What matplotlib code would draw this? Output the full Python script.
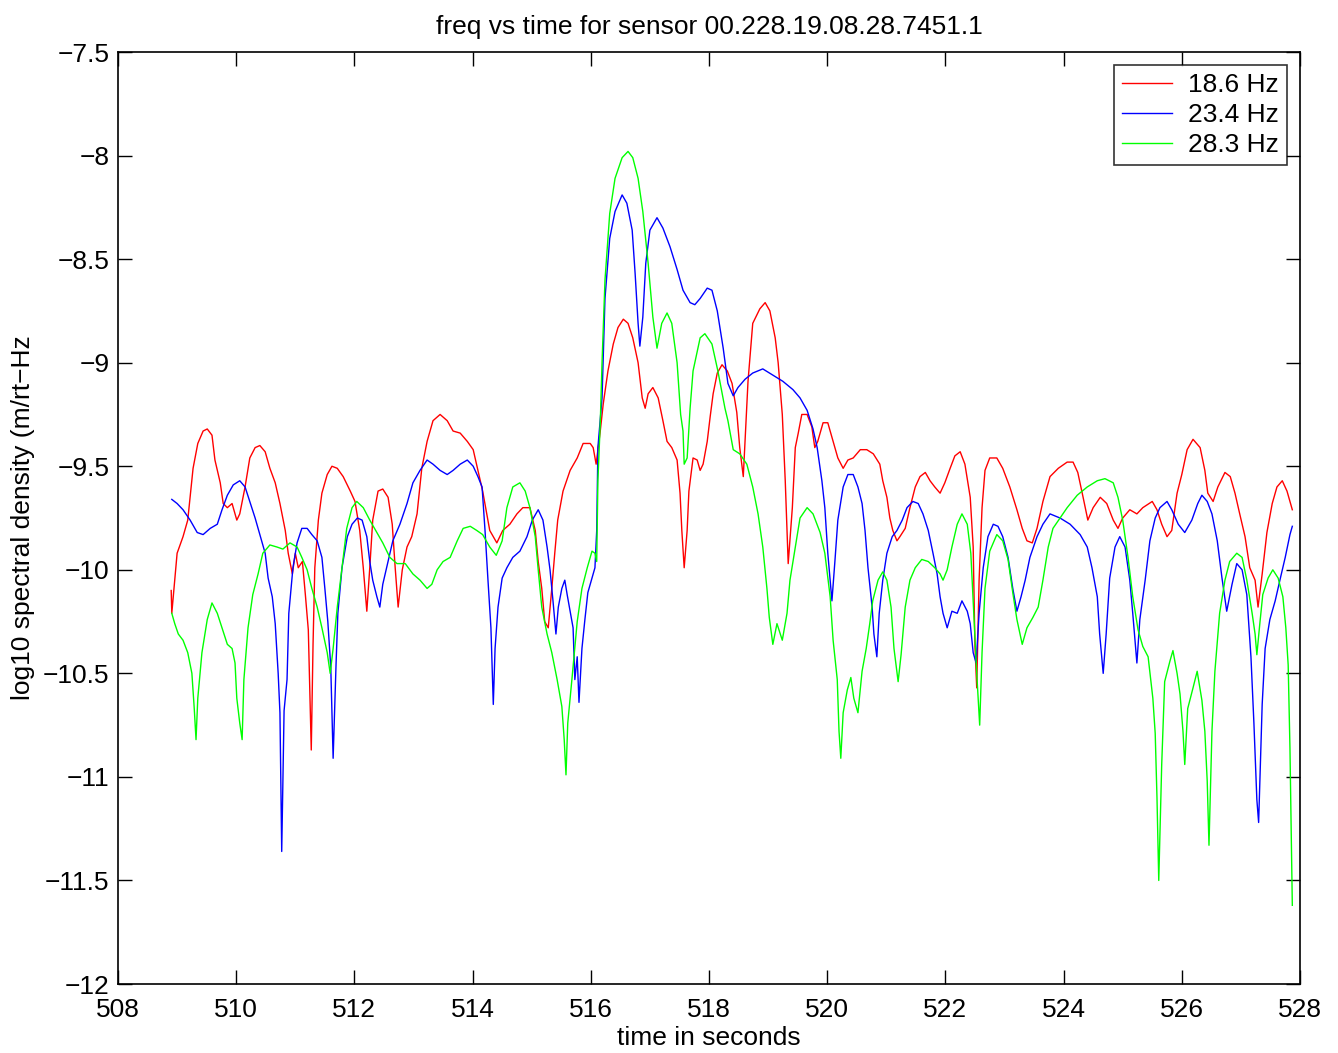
"""Spectral density vs time for one sensor, three frequency bands."""
import matplotlib
matplotlib.use("Agg")
import matplotlib.pyplot as plt
import numpy as np

plt.rcParams["font.family"] = ["Liberation Sans", "DejaVu Sans"]
plt.rcParams["axes.unicode_minus"] = True

SENSOR = "00.228.19.08.28.7451.1"
LABELS = ["18.6 Hz", "23.4 Hz", "28.3 Hz"]
COLORS = ["#ff0000", "#0000ff", "#00ff00"]
FS = 19

# 18.6 Hz
t_red = [508.90, 508.91, 509.00, 509.10, 509.18, 509.27, 509.35, 509.44, 509.51, 509.59,
         509.64, 509.73, 509.78, 509.85, 509.93, 510.01, 510.06, 510.15, 510.23, 510.32,
         510.40, 510.49, 510.57, 510.66, 510.74, 510.83, 510.88, 510.95, 511.00, 511.05,
         511.12, 511.17, 511.22, 511.27, 511.30, 511.33, 511.39, 511.45, 511.54, 511.62,
         511.71, 511.81, 511.93, 512.01, 512.09, 512.15, 512.21, 512.26, 512.31, 512.40,
         512.48, 512.57, 512.64, 512.69, 512.74, 512.81, 512.89, 512.97, 513.06, 513.14,
         513.23, 513.33, 513.45, 513.57, 513.67, 513.79, 513.91, 514.01, 514.09, 514.17,
         514.24, 514.29, 514.41, 514.51, 514.63, 514.75, 514.85, 514.97, 515.06, 515.11,
         515.17, 515.22, 515.28, 515.34, 515.39, 515.44, 515.53, 515.65, 515.77, 515.87,
         515.99, 516.04, 516.09, 516.16, 516.21, 516.29, 516.38, 516.46, 516.55, 516.63,
         516.71, 516.80, 516.87, 516.92, 516.97, 517.05, 517.14, 517.22, 517.29, 517.37,
         517.46, 517.51, 517.54, 517.58, 517.63, 517.66, 517.73, 517.80, 517.85, 517.90,
         517.97, 518.02, 518.07, 518.14, 518.22, 518.31, 518.39, 518.47, 518.52, 518.58,
         518.61, 518.66, 518.74, 518.86, 518.95, 519.03, 519.12, 519.17, 519.24, 519.29,
         519.34, 519.41, 519.46, 519.51, 519.57, 519.66, 519.74, 519.79, 519.84, 519.93,
         520.01, 520.10, 520.18, 520.27, 520.35, 520.44, 520.56, 520.67, 520.78, 520.89,
         520.94, 521.01, 521.06, 521.11, 521.18, 521.23, 521.32, 521.40, 521.49, 521.57,
         521.66, 521.74, 521.82, 521.91, 521.99, 522.08, 522.16, 522.25, 522.33, 522.42,
         522.47, 522.50, 522.53, 522.57, 522.62, 522.67, 522.75, 522.87, 522.97, 523.09,
         523.21, 523.30, 523.38, 523.47, 523.55, 523.65, 523.77, 523.91, 524.06, 524.16,
         524.24, 524.33, 524.41, 524.50, 524.62, 524.73, 524.84, 524.92, 525.00, 525.12,
         525.24, 525.34, 525.50, 525.58, 525.66, 525.75, 525.83, 525.92, 526.00, 526.09,
         526.19, 526.31, 526.39, 526.44, 526.53, 526.61, 526.73, 526.82, 526.90, 526.98,
         527.07, 527.15, 527.24, 527.29, 527.36, 527.44, 527.53, 527.61, 527.70, 527.78,
         527.87]
psd_red = [-10.10, -10.21, -9.92, -9.84, -9.76, -9.51, -9.39, -9.33, -9.32, -9.35,
           -9.47, -9.58, -9.68, -9.70, -9.68, -9.76, -9.73, -9.60, -9.46, -9.41,
           -9.40, -9.43, -9.51, -9.58, -9.68, -9.81, -9.92, -10.02, -9.92, -9.99,
           -9.96, -10.12, -10.29, -10.87, -10.36, -9.99, -9.76, -9.63, -9.54, -9.50,
           -9.51, -9.55, -9.62, -9.67, -9.81, -9.99, -10.20, -9.99, -9.76, -9.62,
           -9.61, -9.65, -9.78, -9.99, -10.18, -10.00, -9.89, -9.84, -9.73, -9.51,
           -9.38, -9.28, -9.25, -9.28, -9.33, -9.34, -9.38, -9.42, -9.52, -9.62,
           -9.73, -9.81, -9.87, -9.81, -9.78, -9.73, -9.70, -9.70, -9.81, -9.96,
           -10.09, -10.25, -10.28, -10.09, -9.92, -9.76, -9.62, -9.52, -9.46, -9.39,
           -9.39, -9.41, -9.49, -9.33, -9.20, -9.04, -8.91, -8.83, -8.79, -8.81,
           -8.88, -9.00, -9.17, -9.22, -9.15, -9.12, -9.17, -9.28, -9.38, -9.41,
           -9.47, -9.63, -9.81, -9.99, -9.81, -9.62, -9.46, -9.47, -9.52, -9.49,
           -9.38, -9.26, -9.15, -9.05, -9.01, -9.04, -9.10, -9.24, -9.41, -9.55,
           -9.38, -9.09, -8.81, -8.74, -8.71, -8.75, -8.88, -9.00, -9.25, -9.57,
           -9.97, -9.70, -9.41, -9.34, -9.25, -9.25, -9.31, -9.41, -9.38, -9.29,
           -9.29, -9.38, -9.46, -9.51, -9.47, -9.46, -9.42, -9.42, -9.44, -9.49,
           -9.57, -9.65, -9.75, -9.81, -9.86, -9.84, -9.80, -9.70, -9.60, -9.55,
           -9.53, -9.57, -9.60, -9.63, -9.58, -9.51, -9.45, -9.43, -9.49, -9.65,
           -9.89, -10.37, -10.57, -10.05, -9.70, -9.52, -9.46, -9.46, -9.51, -9.60,
           -9.71, -9.80, -9.86, -9.87, -9.80, -9.67, -9.55, -9.51, -9.48, -9.48,
           -9.53, -9.65, -9.76, -9.70, -9.65, -9.68, -9.76, -9.80, -9.75, -9.71,
           -9.73, -9.70, -9.67, -9.71, -9.78, -9.84, -9.81, -9.63, -9.54, -9.42,
           -9.37, -9.41, -9.52, -9.63, -9.67, -9.60, -9.53, -9.55, -9.63, -9.73,
           -9.84, -9.99, -10.05, -10.18, -10.02, -9.82, -9.68, -9.60, -9.57, -9.62,
           -9.71]

# 23.4 Hz
t_blue = [508.91, 509.00, 509.10, 509.22, 509.34, 509.44, 509.56, 509.68, 509.76, 509.85,
          509.95, 510.06, 510.15, 510.23, 510.32, 510.40, 510.49, 510.54, 510.61, 510.66,
          510.71, 510.74, 510.77, 510.81, 510.86, 510.89, 510.96, 511.03, 511.11, 511.20,
          511.28, 511.37, 511.45, 511.50, 511.55, 511.60, 511.64, 511.69, 511.72, 511.79,
          511.88, 511.96, 512.05, 512.13, 512.21, 512.26, 512.31, 512.38, 512.43, 512.48,
          512.57, 512.65, 512.77, 512.89, 512.99, 513.11, 513.23, 513.33, 513.45, 513.57,
          513.67, 513.79, 513.91, 514.01, 514.09, 514.16, 514.21, 514.26, 514.31, 514.35,
          514.38, 514.43, 514.50, 514.58, 514.68, 514.80, 514.92, 515.01, 515.11, 515.19,
          515.26, 515.31, 515.36, 515.41, 515.45, 515.51, 515.56, 515.60, 515.65, 515.70,
          515.73, 515.77, 515.80, 515.85, 515.90, 515.95, 516.02, 516.07, 516.10, 516.12,
          516.19, 516.24, 516.32, 516.41, 516.53, 516.61, 516.70, 516.75, 516.80, 516.83,
          516.88, 516.93, 517.00, 517.12, 517.22, 517.34, 517.46, 517.56, 517.68, 517.76,
          517.85, 517.97, 518.05, 518.14, 518.24, 518.32, 518.41, 518.49, 518.61, 518.74,
          518.91, 519.08, 519.25, 519.42, 519.54, 519.66, 519.76, 519.83, 519.91, 519.96,
          520.01, 520.08, 520.13, 520.18, 520.27, 520.35, 520.44, 520.52, 520.59, 520.64,
          520.69, 520.76, 520.79, 520.84, 520.88, 520.94, 521.01, 521.10, 521.18, 521.27,
          521.35, 521.45, 521.54, 521.62, 521.71, 521.79, 521.86, 521.91, 521.96, 522.03,
          522.11, 522.20, 522.28, 522.37, 522.42, 522.47, 522.52, 522.57, 522.64, 522.72,
          522.81, 522.89, 522.97, 523.06, 523.14, 523.21, 523.28, 523.35, 523.43, 523.55,
          523.65, 523.77, 523.94, 524.11, 524.28, 524.40, 524.48, 524.57, 524.61, 524.67,
          524.72, 524.78, 524.87, 524.95, 525.04, 525.12, 525.17, 525.24, 525.29, 525.38,
          525.46, 525.55, 525.63, 525.75, 525.83, 525.94, 526.05, 526.17, 526.27, 526.34,
          526.43, 526.51, 526.60, 526.68, 526.76, 526.85, 526.93, 527.02, 527.10, 527.17,
          527.22, 527.27, 527.30, 527.36, 527.41, 527.49, 527.58, 527.66, 527.75, 527.83,
          527.87]
psd_blue = [-9.66, -9.68, -9.71, -9.76, -9.82, -9.83, -9.80, -9.78, -9.71, -9.64,
            -9.59, -9.57, -9.60, -9.67, -9.75, -9.83, -9.92, -10.04, -10.13, -10.26,
            -10.50, -10.69, -11.36, -10.68, -10.53, -10.21, -9.99, -9.87, -9.80, -9.80,
            -9.83, -9.86, -9.94, -10.09, -10.25, -10.47, -10.91, -10.45, -10.21, -9.99,
            -9.84, -9.78, -9.75, -9.76, -9.84, -9.96, -10.05, -10.13, -10.18, -10.07,
            -9.96, -9.86, -9.78, -9.68, -9.58, -9.52, -9.47, -9.49, -9.52, -9.54,
            -9.52, -9.49, -9.47, -9.50, -9.55, -9.60, -9.81, -10.05, -10.28, -10.65,
            -10.38, -10.18, -10.04, -9.99, -9.94, -9.91, -9.84, -9.76, -9.71, -9.76,
            -9.89, -10.00, -10.15, -10.31, -10.18, -10.09, -10.05, -10.12, -10.20, -10.28,
            -10.53, -10.42, -10.64, -10.38, -10.24, -10.11, -10.04, -9.99, -9.81, -9.41,
            -9.17, -8.69, -8.40, -8.27, -8.19, -8.23, -8.36, -8.57, -8.81, -8.92,
            -8.78, -8.52, -8.36, -8.30, -8.35, -8.44, -8.55, -8.65, -8.71, -8.72,
            -8.69, -8.64, -8.65, -8.75, -8.93, -9.10, -9.16, -9.12, -9.08, -9.05,
            -9.03, -9.06, -9.09, -9.13, -9.17, -9.23, -9.32, -9.41, -9.57, -9.70,
            -9.92, -10.15, -9.96, -9.76, -9.60, -9.54, -9.54, -9.60, -9.68, -9.81,
            -9.99, -10.18, -10.31, -10.42, -10.21, -10.05, -9.92, -9.84, -9.81, -9.76,
            -9.70, -9.67, -9.68, -9.73, -9.81, -9.92, -10.02, -10.13, -10.21, -10.28,
            -10.20, -10.21, -10.15, -10.20, -10.26, -10.40, -10.45, -10.21, -9.99, -9.84,
            -9.78, -9.79, -9.84, -9.94, -10.09, -10.20, -10.13, -10.05, -9.94, -9.84,
            -9.78, -9.73, -9.75, -9.78, -9.83, -9.89, -9.99, -10.13, -10.31, -10.50,
            -10.31, -10.04, -9.89, -9.84, -9.89, -10.05, -10.21, -10.45, -10.24, -10.05,
            -9.86, -9.75, -9.70, -9.67, -9.71, -9.78, -9.82, -9.76, -9.68, -9.64,
            -9.67, -9.73, -9.86, -10.04, -10.20, -10.07, -9.97, -10.00, -10.12, -10.42,
            -10.74, -11.11, -11.22, -10.65, -10.38, -10.24, -10.15, -10.05, -9.94, -9.83,
            -9.79]

# 28.3 Hz
t_green = [508.91, 508.96, 509.02, 509.10, 509.18, 509.25, 509.29, 509.32, 509.35, 509.42,
           509.51, 509.59, 509.68, 509.76, 509.85, 509.93, 509.98, 510.01, 510.06, 510.10,
           510.13, 510.20, 510.28, 510.37, 510.45, 510.57, 510.69, 510.79, 510.91, 511.03,
           511.11, 511.20, 511.28, 511.37, 511.45, 511.54, 511.59, 511.64, 511.71, 511.79,
           511.87, 511.96, 512.04, 512.15, 512.26, 512.38, 512.48, 512.60, 512.72, 512.86,
           512.99, 513.11, 513.23, 513.31, 513.40, 513.50, 513.62, 513.74, 513.84, 513.96,
           514.07, 514.17, 514.29, 514.40, 514.50, 514.58, 514.68, 514.80, 514.89, 514.97,
           515.06, 515.11, 515.17, 515.26, 515.34, 515.43, 515.51, 515.55, 515.58, 515.61,
           515.68, 515.77, 515.85, 515.94, 516.02, 516.07, 516.10, 516.12, 516.16, 516.19,
           516.24, 516.32, 516.41, 516.53, 516.63, 516.71, 516.80, 516.88, 516.97, 517.05,
           517.12, 517.20, 517.29, 517.37, 517.46, 517.52, 517.56, 517.58, 517.63, 517.68,
           517.73, 517.85, 517.93, 518.05, 518.15, 518.27, 518.32, 518.41, 518.52, 518.64,
           518.74, 518.83, 518.91, 518.98, 519.02, 519.08, 519.15, 519.24, 519.32, 519.37,
           519.46, 519.54, 519.66, 519.76, 519.88, 519.96, 520.05, 520.10, 520.17, 520.20,
           520.23, 520.27, 520.34, 520.40, 520.45, 520.52, 520.59, 520.66, 520.72, 520.77,
           520.86, 520.94, 521.01, 521.08, 521.13, 521.20, 521.25, 521.32, 521.40, 521.49,
           521.60, 521.71, 521.82, 521.91, 521.96, 522.03, 522.11, 522.20, 522.28, 522.37,
           522.43, 522.48, 522.53, 522.58, 522.62, 522.67, 522.75, 522.87, 522.97, 523.06,
           523.14, 523.21, 523.30, 523.38, 523.48, 523.57, 523.65, 523.74, 523.82, 523.94,
           524.06, 524.23, 524.40, 524.57, 524.70, 524.84, 524.92, 525.00, 525.09, 525.17,
           525.26, 525.34, 525.43, 525.51, 525.55, 525.58, 525.61, 525.66, 525.71, 525.80,
           525.85, 525.92, 525.97, 526.02, 526.05, 526.10, 526.19, 526.26, 526.34, 526.39,
           526.43, 526.46, 526.51, 526.56, 526.64, 526.73, 526.81, 526.93, 527.02, 527.10,
           527.19, 527.24, 527.27, 527.32, 527.37, 527.46, 527.54, 527.63, 527.71, 527.76,
           527.80, 527.83, 527.87]
psd_green = [-10.21, -10.26, -10.31, -10.34, -10.40, -10.50, -10.67, -10.82, -10.62, -10.40,
             -10.24, -10.16, -10.21, -10.28, -10.36, -10.38, -10.45, -10.62, -10.74, -10.82,
             -10.53, -10.28, -10.12, -10.02, -9.92, -9.88, -9.89, -9.90, -9.87, -9.89,
             -9.94, -10.00, -10.09, -10.18, -10.28, -10.40, -10.50, -10.38, -10.18, -9.99,
             -9.80, -9.70, -9.67, -9.70, -9.76, -9.82, -9.87, -9.94, -9.97, -9.97,
             -10.02, -10.05, -10.09, -10.07, -10.00, -9.96, -9.94, -9.86, -9.80, -9.79,
             -9.81, -9.83, -9.89, -9.93, -9.86, -9.70, -9.60, -9.58, -9.62, -9.70,
             -9.84, -10.00, -10.18, -10.31, -10.40, -10.53, -10.66, -10.82, -10.99, -10.74,
             -10.53, -10.25, -10.09, -9.99, -9.91, -9.92, -9.96, -9.57, -9.29, -9.00,
             -8.60, -8.28, -8.11, -8.01, -7.98, -8.01, -8.11, -8.27, -8.52, -8.78,
             -8.93, -8.81, -8.76, -8.81, -9.00, -9.25, -9.33, -9.49, -9.46, -9.22,
             -9.04, -8.88, -8.86, -8.91, -9.04, -9.22, -9.28, -9.42, -9.44, -9.49,
             -9.60, -9.73, -9.89, -10.09, -10.23, -10.36, -10.26, -10.34, -10.21, -10.05,
             -9.89, -9.75, -9.70, -9.73, -9.82, -9.92, -10.13, -10.34, -10.53, -10.78,
             -10.91, -10.69, -10.58, -10.52, -10.62, -10.69, -10.49, -10.38, -10.26, -10.15,
             -10.05, -10.01, -10.05, -10.18, -10.38, -10.54, -10.41, -10.18, -10.05, -9.99,
             -9.95, -9.96, -9.99, -10.02, -10.05, -10.00, -9.89, -9.78, -9.73, -9.78,
             -9.92, -10.21, -10.50, -10.75, -10.40, -10.09, -9.91, -9.83, -9.86, -9.95,
             -10.11, -10.24, -10.36, -10.28, -10.23, -10.18, -10.05, -9.89, -9.80, -9.75,
             -9.70, -9.64, -9.60, -9.57, -9.56, -9.58, -9.65, -9.76, -9.94, -10.13,
             -10.29, -10.37, -10.42, -10.62, -10.79, -11.10, -11.50, -10.94, -10.54, -10.44,
             -10.39, -10.50, -10.60, -10.78, -10.94, -10.67, -10.57, -10.49, -10.63, -10.78,
             -11.02, -11.33, -10.78, -10.49, -10.21, -10.05, -9.96, -9.92, -9.94, -10.05,
             -10.21, -10.31, -10.41, -10.26, -10.12, -10.04, -10.00, -10.04, -10.13, -10.28,
             -10.46, -10.86, -11.62]

series = [(t_red, psd_red), (t_blue, psd_blue), (t_green, psd_green)]
yticks = np.arange(-12, -7.4, 0.5)

fig = plt.figure(figsize=(13.38, 10.53), dpi=100)
ax = fig.add_axes([0.0882, 0.0655, 0.8834, 0.8851])

for (t, v), color, label in zip(series, COLORS, LABELS):
    ax.plot(np.asarray(t), np.asarray(v), color=color, linewidth=1.0, label=label)

ax.set_xlim(508, 528)
ax.set_ylim(-12, -7.5)
ax.set_xticks(np.arange(508, 529, 2))
ax.set_yticks(yticks)
ax.set_yticklabels([f"{v:g}".replace("-", "\u2212") for v in yticks])

ax.tick_params(direction="in", length=10, width=1.0, top=True, right=True,
               labelsize=FS)
ax.tick_params(axis="x", pad=10)
ax.tick_params(axis="y", pad=6)
for side in ax.spines.values():
    side.set_linewidth(1.2)

ax.set_title(f"freq vs time for sensor {SENSOR}", fontsize=FS, pad=13)
ax.set_xlabel("time in seconds", fontsize=FS, labelpad=3)
ax.set_ylabel("log10 spectral density (m/rt\u2212Hz", fontsize=FS, labelpad=6)

leg = ax.legend(loc="upper right", fontsize=FS, frameon=True, fancybox=False,
                handlelength=1.9, borderpad=0.3, labelspacing=0.22,
                handletextpad=0.6, borderaxespad=0.5)
leg.get_frame().set_edgecolor("black")
leg.get_frame().set_linewidth(1.2)

fig.savefig("out.png", dpi=100)
